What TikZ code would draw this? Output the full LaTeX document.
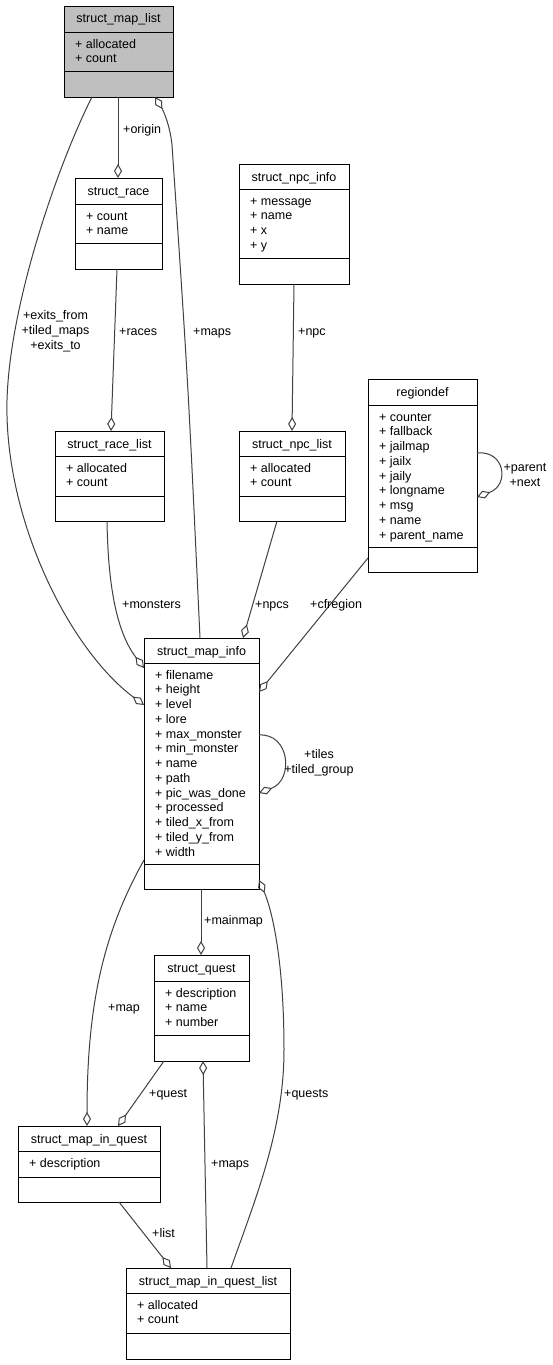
\documentclass[tikz,border=0pt]{standalone}
\usepackage{fontspec}
\setmainfont{Liberation Sans}
\usetikzlibrary{arrows.meta,calc}
\definecolor{edgecol}{HTML}{404040}
\definecolor{hdrgray}{HTML}{BFBFBF}
\newcommand{\clsfill}{white}
\newcommand{\umlclass}[9]{%
  \node[classbox, fill=\clsfill, minimum width={(#4-#2)*1pt}, minimum height={(#5-#3)*1pt}, anchor=north west] (#1) at (#2,#3) {};
  \draw[divline] ($(#1.north west)+(0,#6-#3)$) -- ($(#1.north east)+(0,#6-#3)$);
  \draw[divline] ($(#1.north west)+(0,#7-#3)$) -- ($(#1.north east)+(0,#7-#3)$);
  \node[umltext, anchor=base] (#1-t) at ({(#2+#4)/2},{#3+17}) {#8};
  \foreach \a [count=\i] in {#9} {\node[umltext, anchor=base west] (#1-a\i) at ({#2+11},{#6+16+(\i-1)*14.75}) {+ \a};}
}
\tikzset{
  umltext/.style={inner sep=0pt, font=\fontsize{12.5}{14.75}\selectfont, text=black},
  classbox/.style={draw=black, line width=1pt, inner sep=0pt, outer sep=0pt},
  divline/.style={draw=black, line width=1pt},
  agg/.style={draw=edgecol, line width=1pt, -{Diamond[open, length=14pt, width=8pt, line width=1pt]}},
  lbl/.style={umltext, anchor=base west},
  lblc/.style={umltext, align=center, anchor=center}
}
\begin{document}
\begin{tikzpicture}[x=1pt,y=-1pt]
\fill[white] (0,0) rectangle (553,1365);
\useasboundingbox (0,0) rectangle (553,1365);

\renewcommand{\clsfill}{hdrgray}
\umlclass{maplist}{64}{6}{173}{97}{32}{71}{struct\_map\_list}{allocated,count}
\renewcommand{\clsfill}{white}
\umlclass{race}{75}{178}{162}{269}{204}{243}{struct\_race}{count,name}
\umlclass{npcinfo}{239}{164}{349}{284}{189}{258}{struct\_npc\_info}{message,name,x,y}
\umlclass{racelist}{55}{431}{164}{521}{456}{496}{struct\_race\_list}{allocated,count}
\umlclass{npclist}{239}{431}{345}{521}{456}{496}{struct\_npc\_list}{allocated,count}
\umlclass{regiondef}{368}{379}{477}{572}{405}{547}{regiondef}{counter,fallback,jailmap,jailx,jaily,longname,msg,name,parent\_name}
\umlclass{mapinfo}{144}{638}{259}{889}{663}{864}{struct\_map\_info}{filename,height,level,lore,max\_monster,min\_monster,name,path,pic\_was\_done,processed,tiled\_x\_from,tiled\_y\_from,width}
\umlclass{quest}{154}{955}{249}{1061}{981}{1035}{struct\_quest}{description,name,number}
\umlclass{miq}{18}{1126}{160}{1202}{1151}{1177}{struct\_map\_in\_quest}{description}
\umlclass{miql}{126}{1268}{290}{1359}{1293}{1333}{struct\_map\_in\_quest\_list}{allocated,count}

% connectors
\draw[agg] ($(maplist.south west)+(54,0)$) -- ($(race.north west)+(43,0)$);
\draw[agg] ($(race.south west)+(42,0)$) -- ($(racelist.north west)+(56,0)$);
\draw[agg] ($(mapinfo.north west)+(56,0)$) .. controls (188,380) .. (172,145) .. controls (170,125) and (163,110) .. ($(maplist.south west)+(91,0)$);
\draw[agg] ($(maplist.south west)+(28,0)$) .. controls (60,160) and (10,300) .. (7,400) .. controls (4,520) and (70,650) .. ($(mapinfo.north west)+(0,67)$);
\draw[agg] ($(racelist.south west)+(52,0)$) .. controls (108,580) and (115,630) .. ($(mapinfo.north west)+(0,30)$);
\draw[agg] ($(npcinfo.south west)+(55,0)$) -- ($(npclist.north west)+(53,0)$);
\draw[agg] ($(npclist.south west)+(38,0)$) -- ($(mapinfo.north west)+(99,0)$);
\draw[agg] ($(regiondef.south west)+(0,-14)$) -- ($(mapinfo.north east)+(0,54)$);
\draw[agg] ($(regiondef.north east)+(0,74)$) .. controls (505,450) and (510,485) .. ($(regiondef.north east)+(0,118)$);
\draw[agg] ($(mapinfo.north east)+(0,97)$) .. controls (290,733) and (294,780) .. ($(mapinfo.north east)+(0,155)$);
\draw[agg] ($(mapinfo.south west)+(57,0)$) -- ($(quest.north west)+(47,0)$);
\draw[agg] ($(mapinfo.north west)+(0,222)$) .. controls (105,930) and (87,1000) .. ($(miq.north west)+(69,0)$);
\draw[agg] ($(quest.south west)+(10,0)$) -- ($(miq.north west)+(100,0)$);
\draw[agg] ($(miql.north west)+(81,0)$) -- ($(quest.south west)+(49,0)$);
\draw[agg] ($(miq.south west)+(101,0)$) -- ($(miql.north west)+(45,0)$);
\draw[agg] ($(miql.north west)+(105,0)$) .. controls (255,1200) and (284,1130) .. (284,1050) .. controls (284,960) and (272,910) .. ($(mapinfo.south east)+(0,-9)$);

% labels
\node[lbl] (l-origin) at (123,133) {+origin};
\node[lblc] (l-exits) at (55.5,331) {+exits\_from\\+tiled\_maps\\+exits\_to};
\node[lbl] (l-races) at (119,335) {+races};
\node[lbl] (l-maps1) at (193,335) {+maps};
\node[lbl] (l-npc) at (298,335) {+npc};
\node[lblc] (l-parent) at (525,475) {+parent\\+next};
\node[lbl] (l-monsters) at (122,608) {+monsters};
\node[lbl] (l-npcs) at (255,608) {+npcs};
\node[lbl] (l-cfregion) at (310,608) {+cfregion};
\node[lblc] (l-tiles) at (319,763) {+tiles\\+tiled\_group};
\node[lbl] (l-mainmap) at (204,924) {+mainmap};
\node[lbl] (l-map) at (108,1011) {+map};
\node[lbl] (l-quest) at (149,1097) {+quest};
\node[lbl] (l-quests) at (284,1097) {+quests};
\node[lbl] (l-maps2) at (211,1167) {+maps};
\node[lbl] (l-list) at (152,1237) {+list};
\end{tikzpicture}
\end{document}
